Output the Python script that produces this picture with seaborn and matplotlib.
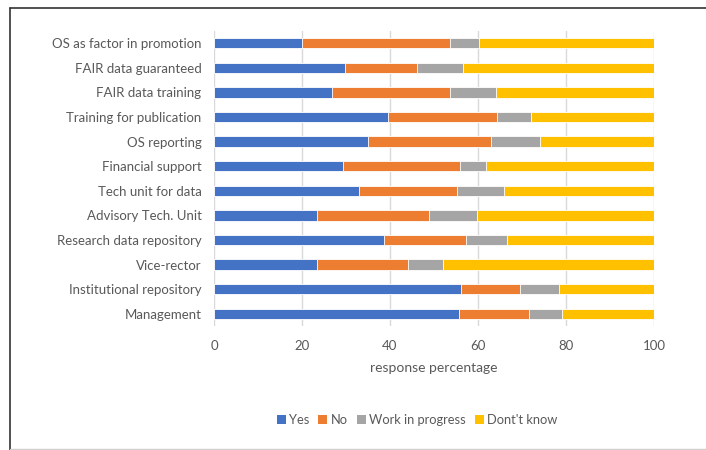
import matplotlib
matplotlib.use("Agg")
import matplotlib.pyplot as plt
import seaborn as sns
import pandas as pd
import numpy as np
from matplotlib.patches import Patch
from matplotlib.lines import Line2D

categories = [
    "OS as factor in promotion",
    "FAIR data guaranteed",
    "FAIR data training",
    "Training for publication",
    "OS reporting",
    "Financial support",
    "Tech unit for data",
    "Advisory Tech. Unit",
    "Research data repository",
    "Vice-rector",
    "Institutional repository",
    "Management",
]
yes = [20.0, 29.8, 26.9, 39.6, 35.1, 29.4, 33.0, 23.3, 38.6, 23.3, 56.1, 55.7]
no = [33.6, 16.4, 26.7, 24.8, 27.8, 26.4, 22.3, 25.6, 18.6, 20.8, 13.5, 16.0]
wip = [6.6, 10.3, 10.5, 7.6, 11.2, 6.0, 10.5, 10.8, 9.5, 8.0, 8.8, 7.5]
dont_know = [39.8, 43.5, 35.9, 28.0, 25.9, 38.2, 34.2, 40.3, 33.3, 47.9, 21.6, 20.8]

series_names = ["Yes", "No", "Work in progress", "Dont't know"]
colors = ["#4472C4", "#ED7D31", "#A5A5A5", "#FFC000"]

df = pd.DataFrame({
    "category": categories,
    "Yes": yes,
    "No": no,
    "Work in progress": wip,
    "Dont't know": dont_know,
})
# cumulative right edges of each stacked segment
cum = df[series_names].cumsum(axis=1)

sns.set_theme(style="white")
plt.rcParams["font.family"] = ["Lato", "DejaVu Sans"]
text_color = "#595959"

fig = plt.figure(figsize=(7.06, 4.5), dpi=100)
ax = fig.add_axes([214 / 706, 1 - 326 / 450, 440 / 706, 295 / 450])

# draw from the outermost layer inwards so each segment shows its own span
for name, color in reversed(list(zip(series_names, colors))):
    sns.barplot(
        x=cum[name], y=df["category"], orient="h", color=color, saturation=1,
        width=0.42, edgecolor="white", linewidth=0.6, ax=ax, zorder=3,
    )

ax.set_xlim(0, 100)
ax.set_ylim(11.5, -0.5)
ax.set_xticks(np.arange(0, 101, 20))
ax.xaxis.grid(True, color="#D9D9D9", linewidth=1.0, zorder=0)
ax.set_axisbelow(True)
for s in ["top", "right", "bottom", "left"]:
    ax.spines[s].set_visible(False)
ax.tick_params(axis="both", length=0, labelsize=9.5, colors=text_color)
ax.tick_params(axis="y", pad=9)
ax.tick_params(axis="x", pad=10)
ax.set_ylabel("")
ax.set_xlabel("response percentage", fontsize=10, color=text_color, labelpad=7)

handles = [Patch(facecolor=c, edgecolor="none") for c in colors]
fig.legend(
    handles, series_names, loc="center", bbox_to_anchor=(417 / 706, 1 - 420 / 450),
    ncol=4, frameon=False, fontsize=9.3, labelcolor=text_color,
    handlelength=0.7, handleheight=0.7, handletextpad=0.25, columnspacing=0.7,
)

# frame around the chart
fig.add_artist(Line2D([10 / 706, 10 / 706], [0, 1 - 8 / 450], transform=fig.transFigure, color="#333333", lw=1.2))
fig.add_artist(Line2D([10 / 706, 1], [1 - 8 / 450, 1 - 8 / 450], transform=fig.transFigure, color="#333333", lw=1.2))
fig.add_artist(Line2D([10 / 706, 1], [1 / 450, 1 / 450], transform=fig.transFigure, color="#D0D0D0", lw=1.0))

fig.savefig("out.png", dpi=100)
